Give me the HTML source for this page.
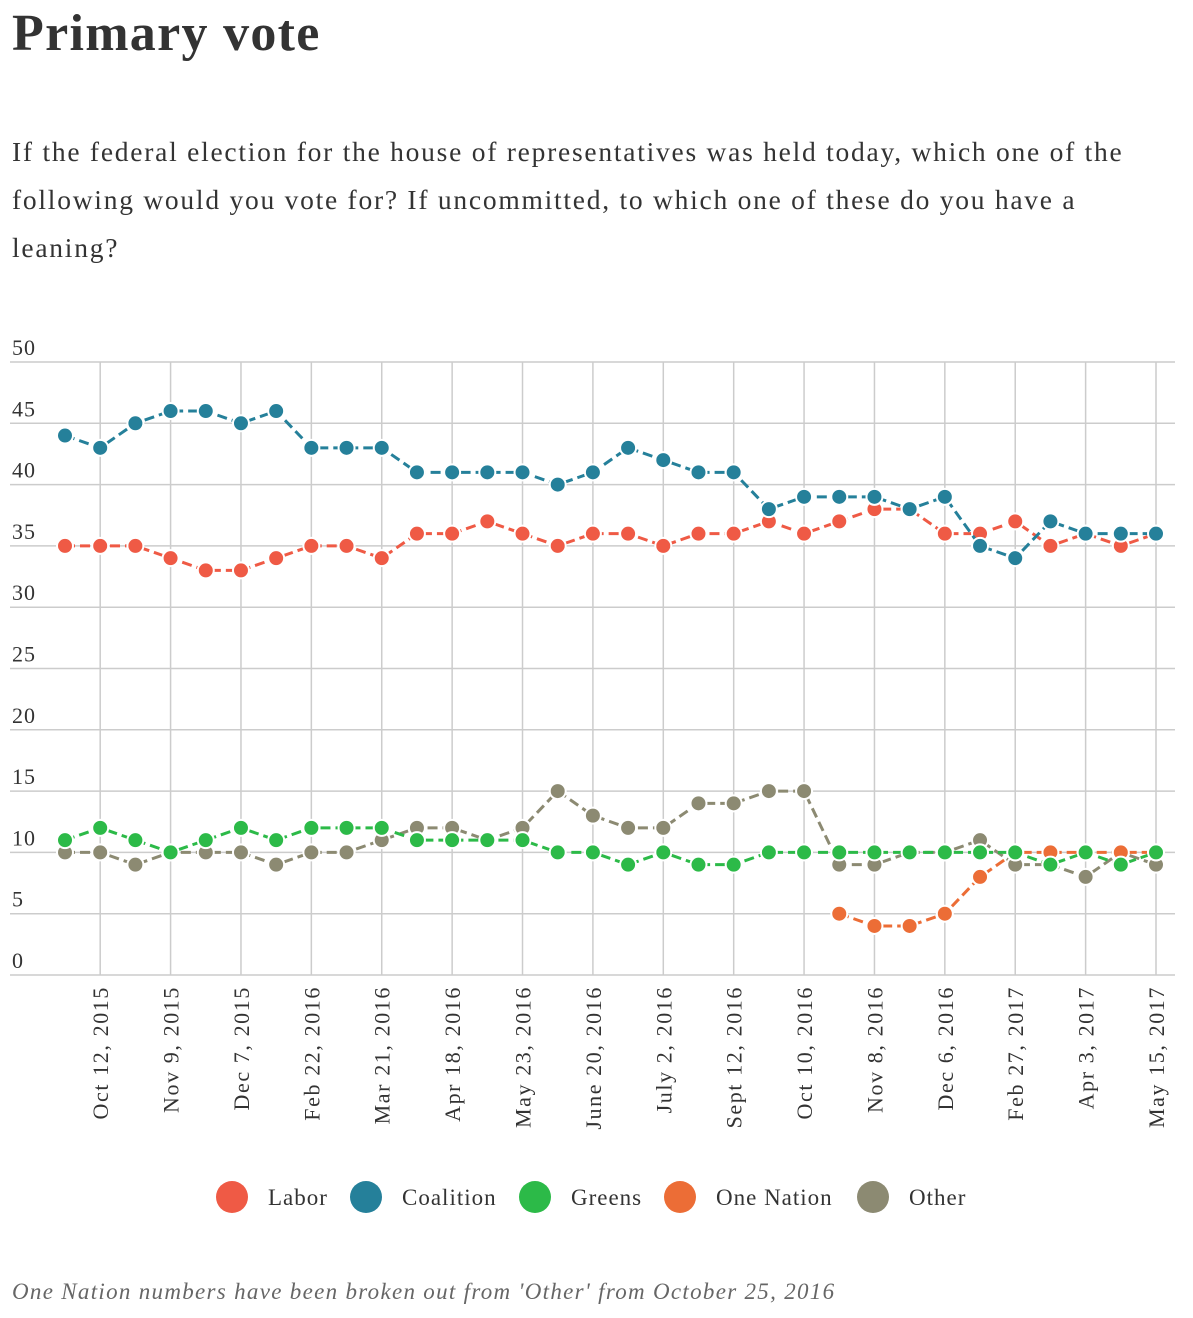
<!DOCTYPE html>
<html><head><meta charset="utf-8">
<style>
body{margin:0;background:#fff;width:1193px;height:1318px;overflow:hidden;font-family:"Liberation Serif",serif;color:#333}
h1{position:absolute;left:12px;top:4px;margin:0;font-size:52px;font-weight:bold;color:#333;letter-spacing:1.3px}
.sub{position:absolute;left:12px;top:128px;width:1135px;font-size:27.5px;line-height:48px;color:#333;margin:0;letter-spacing:1.75px}
.foot{position:absolute;left:12px;top:1279px;font-size:23px;font-style:italic;color:#666;margin:0;letter-spacing:1.3px}
svg{position:absolute;left:0;top:0}
</style></head><body>
<h1>Primary vote</h1>
<p class="sub">If the federal election for the house of representatives was held today, which one of the following would you vote for? If uncommitted, to which one of these do you have a leaning?</p>
<svg id="chart" width="1193" height="1318"></svg>
<p class="foot">One Nation numbers have been broken out from 'Other' from October 25, 2016</p>
<script>
const yTicks=[0,5,10,15,20,25,30,35,40,45,50];
const xLabels=["Oct 12, 2015","Nov 9, 2015","Dec 7, 2015","Feb 22, 2016","Mar 21, 2016","Apr 18, 2016","May 23, 2016","June 20, 2016","July 2, 2016","Sept 12, 2016","Oct 10, 2016","Nov 8, 2016","Dec 6, 2016","Feb 27, 2017","Apr 3, 2017","May 15, 2017"];
const labelIndex=[1,3,5,7,9,11,13,15,17,19,21,23,25,27,29,31];
const labor=[35,35,35,34,33,33,34,35,35,34,36,36,37,36,35,36,36,35,36,36,37,36,37,38,38,36,36,37,35,36,35,36];
const coalition=[44,43,45,46,46,45,46,43,43,43,41,41,41,41,40,41,43,42,41,41,38,39,39,39,38,39,35,34,37,36,36,36];
const greens=[11,12,11,10,11,12,11,12,12,12,11,11,11,11,10,10,9,10,9,9,10,10,10,10,10,10,10,10,9,10,9,10];
const oneNation=[null,null,null,null,null,null,null,null,null,null,null,null,null,null,null,null,null,null,null,null,null,null,5,4,4,5,8,10,10,10,10,10];
const other=[10,10,9,10,10,10,9,10,10,11,12,12,11,12,15,13,12,12,14,14,15,15,9,9,10,10,11,9,9,8,10,9];
const NS="http://www.w3.org/2000/svg";
const svg=document.getElementById('chart');
const x=i=>65+i*(1156-65)/31;
const y=v=>975-v*(975-362)/50;
function mk(t,a){const e=document.createElementNS(NS,t);for(const k in a)e.setAttribute(k,a[k]);svg.appendChild(e);return e;}
yTicks.forEach(v=>{
 const l=mk('line',{x1:10,x2:1175,y1:y(v),y2:y(v),stroke:'#ccc','stroke-width':1.5});
 
 
 const t=mk('text',{x:12,y:y(v)-7,'font-size':22,fill:'#333','font-family':'Liberation Serif','letter-spacing':1});
 t.textContent=v;
 
 
});
labelIndex.forEach((idx,k)=>{
 const l=mk('line',{x1:x(idx),x2:x(idx),y1:362,y2:975,stroke:'#ccc','stroke-width':1.5});
 
 
 const t=mk('text',{x:0,y:0,'font-size':22,fill:'#333','font-family':'Liberation Serif','text-anchor':'end','letter-spacing':1.6,transform:`translate(${x(idx)+8},986) rotate(-90)`});
 t.textContent=xLabels[k];
 
 
});
const series=[["other",other,"#8c8a72"],["one-nation",oneNation,"#ec6d36"],["greens",greens,"#2cba48"],["labor",labor,"#ef5a45"],["coalition",coalition,"#25809a"]];
series.forEach(([name,data,col])=>{
 let d="";let pen=false;
 data.forEach((v,i)=>{if(v==null){pen=false;return;}d+=(pen?"L":"M")+x(i)+","+y(v);pen=true;});
 const p=mk('path',{d:d,fill:'none',stroke:col,'stroke-width':3,'stroke-dasharray':'10,5'});
 
 
 data.forEach((v,i)=>{if(v==null)return;
  const c=mk('circle',{cx:x(i),cy:y(v),r:8,fill:col,stroke:'#fff','stroke-width':2});
  
  
 });
});
const legend=[["Labor","#ef5a45",232],["Coalition","#25809a",366],["Greens","#2cba48",535],["One Nation","#ec6d36",680],["Other","#8c8a72",873]];
legend.forEach(([lab,col,lx])=>{
 const c=mk('circle',{cx:lx,cy:1197,r:16,fill:col});
 
 
 const t=mk('text',{x:lx+36,y:1205,'font-size':23,fill:'#333','font-family':'Liberation Serif','letter-spacing':1});
 t.textContent=lab;
 
 
});
</script>
</body></html>
